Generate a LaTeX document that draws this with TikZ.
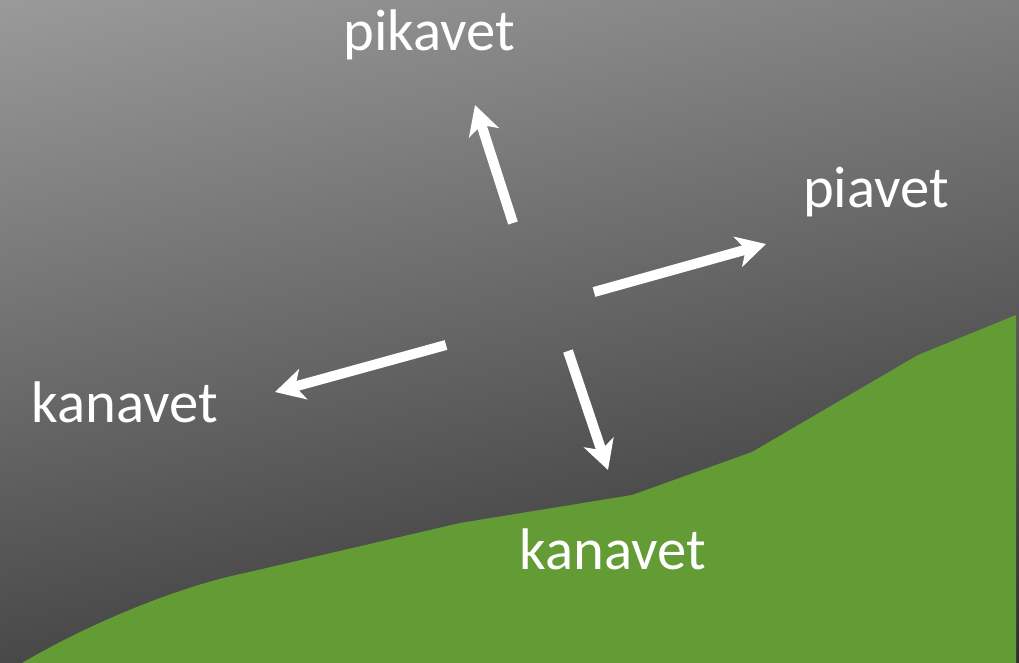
\documentclass[tikz,border=0pt]{standalone}
\usepackage{fontspec}
\setmainfont{Carlito}
\usetikzlibrary{arrows.meta}

\definecolor{bgtop}{gray}{0.604}
\definecolor{bgbot}{gray}{0.18}
\definecolor{grass}{RGB}{99,155,53}

\tikzset{
  label/.style={text=white, inner sep=0pt, anchor=base,
    font=\fontsize{33.4}{40}\selectfont},
  move/.style={draw=white, line width=0.2cm,
    -{Stealth[length=0.58cm, width=0.62cm, inset=0.16cm]}},
}

\begin{document}
\begin{tikzpicture}[x=0.02cm, y=-0.02cm]
\useasboundingbox (0,0) rectangle (1019,663);

% sky: linear gradient, light at the upper left
\begin{scope}
  \clip (0,0) rectangle (1019,663);
  \begin{scope}[transform canvas={rotate around={12:(509.5,331.5)}}]
    \shade[top color=bgtop, bottom color=bgbot]
      (-90,-100) rectangle (1109,763);
  \end{scope}
\end{scope}

% hill
\fill[grass] (22,663) .. controls (95,620) and (185,585) .. (245,573)
  -- (460,523) -- (632,495) -- (752,452) -- (918,355) -- (1016,315)
  -- (1016,663) -- cycle;

% labels
\node[label] (up)    at (429,50)  {pikavet};
\node[label] (right) at (876,207) {piavet};
\node[label] (left)  at (125,422) {kanavet};
\node[label] (down)  at (613,569) {kanavet};

% arrow ends
\coordinate (upA)    at (513,223);
\coordinate (upB)    at (475,105);
\coordinate (rightA) at (594,292);
\coordinate (rightB) at (766,244);
\coordinate (leftA)  at (446,345);
\coordinate (leftB)  at (275,392);
\coordinate (downA)  at (568,351);
\coordinate (downB)  at (608,470);

\draw[move] (upA) -- (upB);
\draw[move] (rightA) -- (rightB);
\draw[move] (leftA) -- (leftB);
\draw[move] (downA) -- (downB);
\end{tikzpicture}
\end{document}
